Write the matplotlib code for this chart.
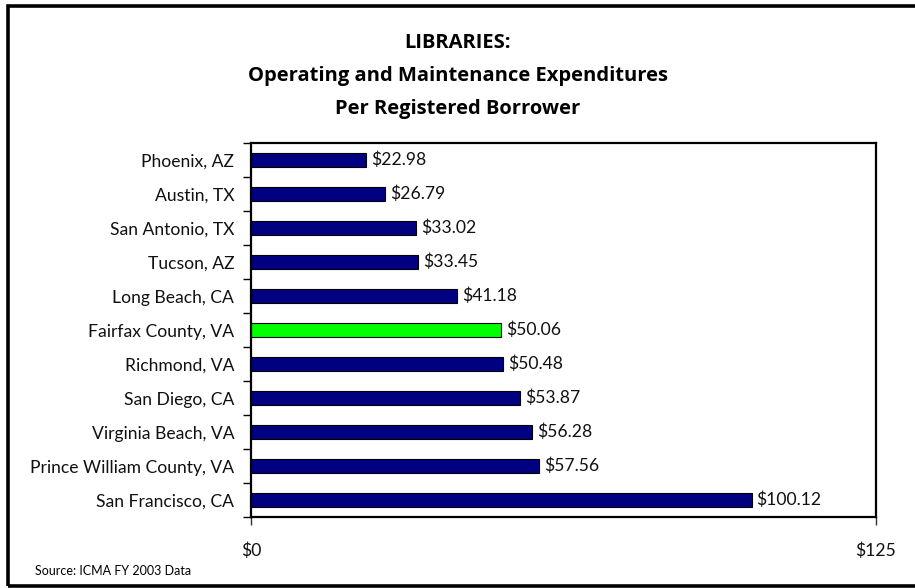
import numpy as np
import matplotlib.pyplot as plt
from matplotlib.patches import Rectangle

# Data
cities = ["Phoenix, AZ", "Austin, TX", "San Antonio, TX", "Tucson, AZ",
          "Long Beach, CA", "Fairfax County, VA", "Richmond, VA", "San Diego, CA",
          "Virginia Beach, VA", "Prince William County, VA", "San Francisco, CA"]
spending = [22.98, 26.79, 33.02, 33.45, 41.18, 50.06, 50.48, 53.87, 56.28, 57.56, 100.12]
highlight = "Fairfax County, VA"
xticks = [0, 125]
xtick_labels = ["$0", "$125"]

plt.rcParams['font.family'] = ['Lato', 'DejaVu Sans']

fig = plt.figure(figsize=(9.15, 5.88), dpi=100)
ax = fig.add_axes([251/915, 1 - 517/588, 625/915, 374/588])

colors = ['#00ff00' if c == highlight else '#000080' for c in cities]
y = np.arange(len(cities))
ax.barh(y, spending, height=0.42, color=colors, edgecolor='black', linewidth=0.8)
for yi, v in zip(y, spending):
    ax.text(v + 1.0, yi, "${:.2f}".format(v), va='center', ha='left', fontsize=12.6, color='#111111')

ax.set_xlim(0, 125)
ax.set_ylim(len(cities) - 0.5, -0.5)
ax.set_yticks(y)
ax.set_yticklabels(cities, fontsize=12.6, color='#111111')
ax.set_yticks(np.arange(len(cities) + 1) - 0.5, minor=True)
ax.tick_params(axis='y', which='major', length=0, pad=12)
ax.tick_params(axis='y', which='minor', length=6, width=1, direction='out')
ax.set_xticks(xticks)
ax.set_xticklabels(xtick_labels, fontsize=12.6, color='#111111')
ax.tick_params(axis='x', length=6, width=1, direction='out', pad=12, colors='#333333', labelcolor='#111111')
for s in ax.spines.values():
    s.set_linewidth(1.6)

title_lines = ["LIBRARIES:", "Operating and Maintenance Expenditures", "Per Registered Borrower"]
for line, ypix in zip(title_lines, [43, 76, 109]):
    fig.text(0.5, 1 - ypix/588, line, ha='center', va='center', fontsize=14.5, fontweight='bold',
             family=['Open Sans', 'DejaVu Sans'])
fig.text(35/915, 1 - 571/588, "Source: ICMA FY 2003 Data", ha='left', va='center', fontsize=9)

# Outer frame (right edge runs off the image)
fig.add_artist(Rectangle((8/915, 1 - 586/588), 1.2, 580/588, transform=fig.transFigure,
                         fill=False, edgecolor='black', linewidth=2.6, clip_on=False))

fig.savefig("out.png", dpi=100)
